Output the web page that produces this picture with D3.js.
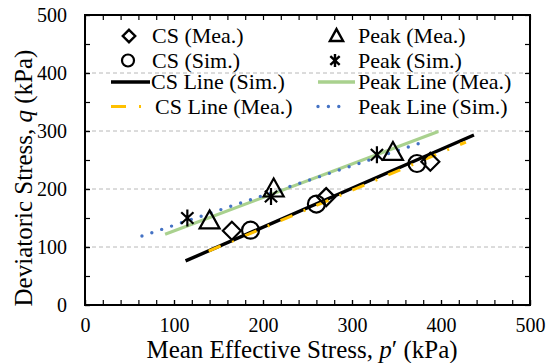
<!DOCTYPE html>
<html>
<head>
<meta charset="utf-8">
<script src="https://cdn.jsdelivr.net/npm/d3@7"></script>
<style>
  body { margin: 0; background: #fff; }
</style>
</head>
<body>
<div id="chart"></div>
<script>
// measured points (p', q)
var csMeaP = [165, 271, 388];
var csMeaQ = [128, 186, 247];
var csSimP = [186, 260, 373];
var csSimQ = [129, 174, 244];
var peakMeaP = [140, 212, 346];
var peakMeaQ = [145, 200, 263];
var peakSimP = [115, 209, 328];
var peakSimQ = [150, 187, 259];

// fitted lines (end points)
var csLineSimP = [113, 437];
var csLineSimQ = [76, 293];
var csLineMeaP = [139, 428];
var csLineMeaQ = [93, 281];
var peakLineMeaP = [90, 397];
var peakLineMeaQ = [122, 299];
var peakLineSimP = [64, 376];
var peakLineSimQ = [119, 279];

var xTicks = [0, 100, 200, 300, 400, 500];
var yTicks = [0, 100, 200, 300, 400, 500];

var serif = "'Liberation Serif', 'Times New Roman', Times, serif";

var svgWidth = 552;
var svgHeight = 363;
var margin = { top: 15, right: 22, bottom: 58, left: 85 };
var chartWidth = svgWidth - margin.left - margin.right;
var chartHeight = svgHeight - margin.top - margin.bottom;

var svg = d3.select("#chart").append("svg")
  .attr("width", svgWidth)
  .attr("height", svgHeight);

var chartGroup = svg.append("g")
  .attr("transform", `translate(${margin.left}, ${margin.top})`);

var x = d3.scaleLinear().domain([0, 500]).range([0, chartWidth]);
var y = d3.scaleLinear().domain([0, 500]).range([chartHeight, 0]);

// grid
chartGroup.selectAll(".grid")
  .data([100, 200, 300, 400])
  .enter().append("line")
  .attr("x1", 0).attr("x2", chartWidth)
  .attr("y1", d => y(d)).attr("y2", d => y(d))
  .attr("stroke", "#b8b8b8")
  .attr("stroke-width", 1)
  .attr("stroke-dasharray", "4,3");

// axes, ticks pointing inward
function styleAxis(g) {
  g.select(".domain").remove();
  g.selectAll(".tick line").attr("stroke", "#000").attr("stroke-width", 1.2);
  g.selectAll("text")
    .style("font-family", serif)
    .style("font-size", "20px")
    .attr("fill", "#000");
}

chartGroup.append("g")
  .attr("transform", `translate(0, ${chartHeight})`)
  .call(d3.axisBottom(x).tickValues(xTicks).tickSize(-5).tickPadding(13))
  .call(styleAxis);
chartGroup.append("g")
  .attr("transform", `translate(0, ${chartHeight})`)
  .call(d3.axisBottom(x).ticks(20).tickSize(-5).tickFormat(""))
  .call(styleAxis);
chartGroup.append("g")
  .call(d3.axisTop(x).ticks(20).tickSize(-5).tickFormat(""))
  .call(styleAxis);

chartGroup.append("g")
  .call(d3.axisLeft(y).tickValues(yTicks).tickSize(-5).tickPadding(18))
  .call(styleAxis);
chartGroup.append("g")
  .call(d3.axisLeft(y).ticks(10).tickSize(-5).tickFormat(""))
  .call(styleAxis);
chartGroup.append("g")
  .attr("transform", `translate(${chartWidth}, 0)`)
  .call(d3.axisRight(y).ticks(10).tickSize(-5).tickFormat(""))
  .call(styleAxis);

chartGroup.append("rect")
  .attr("width", chartWidth)
  .attr("height", chartHeight)
  .attr("fill", "none")
  .attr("stroke", "#000")
  .attr("stroke-width", 2);

// lines
var line = d3.line().x(d => x(d[0])).y(d => y(d[1]));

function drawLine(ps, qs, color, width, dash, cap) {
  chartGroup.append("path")
    .datum(d3.zip(ps, qs))
    .attr("d", line)
    .attr("fill", "none")
    .attr("stroke", color)
    .attr("stroke-width", width)
    .attr("stroke-dasharray", dash)
    .attr("stroke-linecap", cap);
}

drawLine(csLineSimP, csLineSimQ, "#000", 3.4, null, "butt");
drawLine(csLineMeaP, csLineMeaQ, "#ffc000", 3, "13,12,2,12", "butt");
drawLine(peakLineMeaP, peakLineMeaQ, "#a9d18e", 3.2, null, "butt");
drawLine(peakLineSimP, peakLineSimQ, "#4472c4", 3.4, "0,10.4", "round");

// markers
function diamond(s) { return `M0,${-s}L${s},0L0,${s}L${-s},0Z`; }
function triangle(s) { return `M0,${-s * 1.05}L${s},${s * 0.75}L${-s},${s * 0.75}Z`; }
function asterisk(s) {
  var a = s * 0.72, b = s * 0.68;
  return `M0,${-s}L0,${s}M${-a},${-b}L${a},${b}M${-a},${b}L${a},${-b}`;
}

function drawMarkers(ps, qs, kind, s) {
  var pts = d3.zip(ps, qs);
  var sel = chartGroup.selectAll(null).data(pts).enter();
  if (kind === "circle") {
    sel.append("circle")
      .attr("cx", d => x(d[0])).attr("cy", d => y(d[1]))
      .attr("r", s)
      .attr("fill", "none").attr("stroke", "#000").attr("stroke-width", 2.2);
  } else {
    var f = kind === "diamond" ? diamond : kind === "triangle" ? triangle : asterisk;
    sel.append("path")
      .attr("transform", d => `translate(${x(d[0])}, ${y(d[1])})`)
      .attr("d", f(s))
      .attr("fill", "none").attr("stroke", "#000").attr("stroke-width", 2.2)
      .attr("stroke-linejoin", "miter");
  }
}

drawMarkers(csMeaP, csMeaQ, "diamond", 9);
drawMarkers(csSimP, csSimQ, "circle", 8.5);
drawMarkers(peakMeaP, peakMeaQ, "triangle", 10);
drawMarkers(peakSimP, peakSimQ, "asterisk", 8.5);

// legend
var legend = svg.append("g");
var legendItems = [
  { label: "CS (Mea.)", kind: "diamond", lx: 129, ly: 36, tx: 152 },
  { label: "Peak (Mea.)", kind: "triangle", lx: 336.5, ly: 36, tx: 358 },
  { label: "CS (Sim.)", kind: "circle", lx: 128, ly: 60.5, tx: 152 },
  { label: "Peak (Sim.)", kind: "asterisk", lx: 335, ly: 60.5, tx: 358 },
  { label: "CS Line (Sim.)", kind: "black", lx: 111, ly: 82, tx: 151 },
  { label: "Peak Line (Mea.)", kind: "green", lx: 318, ly: 82, tx: 358 },
  { label: "CS Line (Mea.)", kind: "yellow", lx: 111, ly: 106.5, tx: 155 },
  { label: "Peak Line (Sim.)", kind: "blue", lx: 318, ly: 106.5, tx: 358 }
];

legendItems.forEach(function(d) {
  if (d.kind === "circle") {
    legend.append("circle").attr("cx", d.lx).attr("cy", d.ly).attr("r", 6)
      .attr("fill", "none").attr("stroke", "#000").attr("stroke-width", 2.2);
  } else if (d.kind === "diamond" || d.kind === "triangle" || d.kind === "asterisk") {
    var f = d.kind === "diamond" ? diamond(6.2) : d.kind === "triangle" ? triangle(6.6) : asterisk(6.5);
    legend.append("path").attr("transform", `translate(${d.lx}, ${d.ly})`).attr("d", f)
      .attr("fill", "none").attr("stroke", "#000").attr("stroke-width", 2.4);
  } else {
    var styles = {
      black: ["#000", 3.4, null, "butt", 39],
      green: ["#a9d18e", 3.4, null, "butt", 37],
      yellow: ["#ffc000", 3, "15,13,2,13", "butt", 33],
      blue: ["#4472c4", 3.4, "0,10.4", "round", 24]
    }[d.kind];
    legend.append("line")
      .attr("x1", d.lx).attr("x2", d.lx + styles[4])
      .attr("y1", d.ly).attr("y2", d.ly)
      .attr("stroke", styles[0]).attr("stroke-width", styles[1])
      .attr("stroke-dasharray", styles[2]).attr("stroke-linecap", styles[3]);
  }
  legend.append("text")
    .attr("x", d.tx).attr("y", d.ly + 7)
    .style("font-family", serif)
    .style("font-size", "22px")
    .attr("fill", "#000")
    .text(d.label);
});

// axis titles
var xTitle = svg.append("text")
  .attr("x", 302).attr("y", 358)
  .attr("text-anchor", "middle")
  .style("font-family", serif)
  .style("font-size", "25px");
xTitle.append("tspan").text("Mean Effective Stress, ");
xTitle.append("tspan").style("font-style", "italic").text("p");
xTitle.append("tspan").text("\u2032 (kPa)");

var yTitle = svg.append("text")
  .attr("transform", "translate(32, 178) rotate(-90)")
  .attr("text-anchor", "middle")
  .style("font-family", serif)
  .style("font-size", "25px");
yTitle.append("tspan").text("Deviatoric Stress, ");
yTitle.append("tspan").style("font-style", "italic").text("q");
yTitle.append("tspan").text(" (kPa)");
</script>
</body>
</html>
